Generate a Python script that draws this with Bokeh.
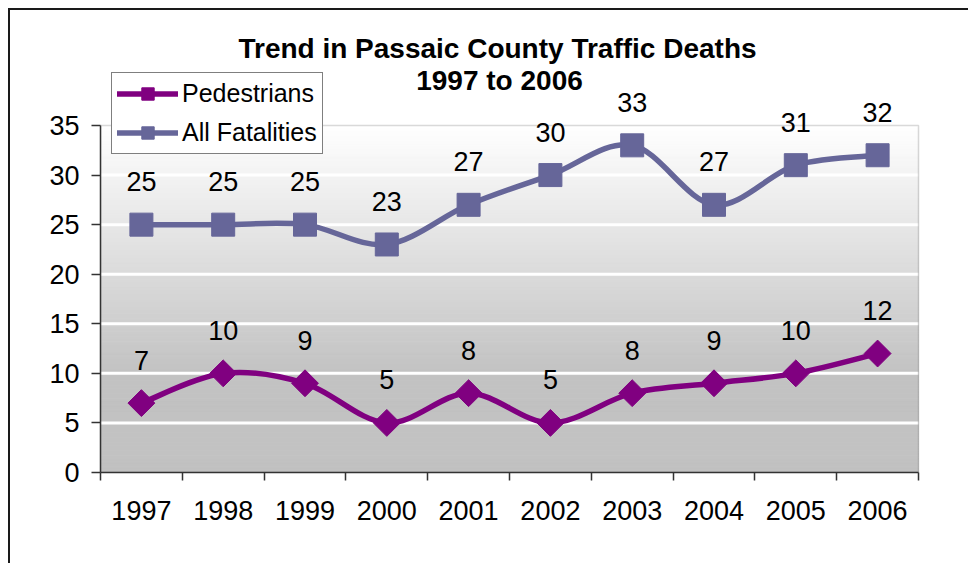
import numpy as np
from bokeh.plotting import figure
from bokeh.models import (Range1d, FixedTicker, ColumnDataSource, LabelSet, Label,
                          Legend, LegendItem, BoxAnnotation)
from bokeh.embed import file_html
from bokeh.resources import INLINE
from bokeh.core.properties import value

# ---------------- data ----------------
years = ["1997", "1998", "1999", "2000", "2001", "2002", "2003", "2004", "2005", "2006"]
pedestrians = [7, 10, 9, 5, 8, 5, 8, 9, 10, 12]
all_fatalities = [25, 25, 25, 23, 27, 30, 33, 27, 31, 32]
y_ticks = [0, 5, 10, 15, 20, 25, 30, 35]
title_lines = ["Trend in Passaic County Traffic Deaths", "1997 to 2006"]
series_names = ["Pedestrians", "All Fatalities"]

PED_COLOR = "#800080"
ALL_COLOR = "#666699"
FONT = "Liberation Sans"

n = len(years)
xs = np.arange(n) + 0.5
y_max = y_ticks[-1]

# layout (pixels): plot area 818 x 347, frame extended up/right so that
# legend, title and data labels are not clipped
PLOT_W, PLOT_H = 818, 347
FRAME_W, FRAME_H = 830, 462
x_top = n * FRAME_W / PLOT_W
y_top = y_max * FRAME_H / PLOT_H

p = figure(width=960, height=555, output_backend="svg", toolbar_location=None,
           x_range=Range1d(0, x_top), y_range=Range1d(0, y_top),
           min_border_left=90, min_border_right=960 - 90 - FRAME_W,
           min_border_top=0, min_border_bottom=555 - FRAME_H)
p.styles = {"margin-left": "8px", "margin-top": "8px",
            "border-left": "2px solid #1a1a1a", "border-top": "2px solid #1a1a1a"}
p.background_fill_color = "white"
p.border_fill_color = "white"
p.outline_line_color = None

# ---------------- gradient plot-area background ----------------
steps = 140
edges = np.linspace(0, y_max, steps + 1)
mids = (edges[:-1] + edges[1:]) / 2
t = np.clip((mids - 10) / (y_max - 10), 0, 1)
g = (194 + t * (255 - 194)).round().astype(int)
bg_colors = ["#%02x%02x%02x" % (v, v, v) for v in g]
p.quad(left=0, right=n, bottom=edges[:-1], top=edges[1:], fill_color=bg_colors,
       line_color=bg_colors, line_width=1, level="image")

# ---------------- grid ----------------
p.xgrid.visible = False
p.ygrid.visible = False
grid_y = y_ticks[1:-1]
p.segment(x0=[0] * len(grid_y), x1=[n] * len(grid_y), y0=grid_y, y1=grid_y,
          line_color="white", line_width=3, level="underlay")

# plot-area border (top and right)
p.add_layout(BoxAnnotation(left=0, right=n, bottom=0, top=y_max, fill_color=None,
                           line_color="#808080", line_width=1.5, level="underlay"))


# ---------------- smoothed lines (Catmull-Rom bezier) ----------------
def bezier_parts(x, y):
    P = np.column_stack([x, y]).astype(float)
    Pm = np.vstack([P[0], P, P[-1]])
    m = len(P)
    c0 = P[:-1] + (Pm[2:m + 1] - Pm[0:m - 1]) / 6.0
    c1 = P[1:] - (Pm[3:m + 2] - Pm[1:m]) / 6.0
    return dict(x0=P[:-1, 0], y0=P[:-1, 1], x1=P[1:, 0], y1=P[1:, 1],
                cx0=c0[:, 0], cy0=c0[:, 1], cx1=c1[:, 0], cy1=c1[:, 1])


bz_all = p.bezier(source=ColumnDataSource(bezier_parts(xs, all_fatalities)),
                  x0="x0", y0="y0", x1="x1", y1="y1", cx0="cx0", cy0="cy0",
                  cx1="cx1", cy1="cy1", line_color=ALL_COLOR, line_width=5.5,
                  line_cap="round")
bz_ped = p.bezier(source=ColumnDataSource(bezier_parts(xs, pedestrians)),
                  x0="x0", y0="y0", x1="x1", y1="y1", cx0="cx0", cy0="cy0",
                  cx1="cx1", cy1="cy1", line_color=PED_COLOR, line_width=5.5,
                  line_cap="round")

src = ColumnDataSource(dict(x=xs, ped=pedestrians, allf=all_fatalities,
                            ped_txt=[str(v) for v in pedestrians],
                            all_txt=[str(v) for v in all_fatalities]))

sc_all = p.scatter("x", "allf", source=src, marker="square", size=23,
                   fill_color=ALL_COLOR, line_color=ALL_COLOR)
sc_ped = p.scatter("x", "ped", source=src, marker="square", angle=np.pi / 4,
                   size=19, fill_color=PED_COLOR, line_color=PED_COLOR)

for col, txt in (("ped", "ped_txt"), ("allf", "all_txt")):
    p.add_layout(LabelSet(x="x", y=col, text=txt, source=src, y_offset=43,
                          text_align="center", text_baseline="middle",
                          text_font=value(FONT), text_font_size="27px",
                          text_color="black"))

# ---------------- axes ----------------
p.xaxis.ticker = FixedTicker(ticks=list(xs), minor_ticks=list(range(n + 1)))
p.xaxis.major_label_overrides = {float(xv): yr for xv, yr in zip(xs, years)}
p.xaxis.bounds = (0, n)
p.xaxis.major_tick_out = 0
p.xaxis.major_tick_in = 0
p.xaxis.minor_tick_out = 8
p.xaxis.minor_tick_in = 0
p.xaxis.minor_tick_line_color = "#333333"
p.xaxis.minor_tick_line_width = 1.5
p.xaxis.major_label_standoff = 20

p.yaxis.ticker = FixedTicker(ticks=y_ticks)
p.yaxis.bounds = (0, y_max)
p.yaxis.major_tick_out = 9
p.yaxis.major_tick_in = 0
p.yaxis.minor_tick_line_color = None
p.yaxis.major_label_standoff = 12

for ax in (p.xaxis[0], p.yaxis[0]):
    ax.axis_line_color = "#333333"
    ax.axis_line_width = 1.5
    ax.major_tick_line_color = "#333333"
    ax.major_tick_line_width = 1.5
    ax.major_label_text_font = FONT
    ax.major_label_text_font_size = "27px"
    ax.major_label_text_color = "black"

# ---------------- title ----------------
p.add_layout(Label(x=397, y=424, x_units="screen", y_units="screen", text=title_lines[0],
                   text_align="center", text_baseline="alphabetic", text_font=FONT,
                   text_font_size="28px", text_font_style="bold", text_color="black"))
p.add_layout(Label(x=399, y=392, x_units="screen", y_units="screen", text=title_lines[1],
                   text_align="center", text_baseline="alphabetic", text_font=FONT,
                   text_font_size="28px", text_font_style="bold", text_color="black"))

# ---------------- legend ----------------
legend = Legend(items=[LegendItem(label=series_names[0], renderers=[bz_ped, sc_ped]),
                       LegendItem(label=series_names[1], renderers=[bz_all, sc_all])],
                location=(11, 318), orientation="vertical", glyph_width=61,
                glyph_height=31, label_height=31, spacing=8, padding=5, margin=0,
                label_standoff=4, label_text_font=FONT, label_text_font_size="25px",
                label_text_color="black", border_line_color="black",
                border_line_width=1.2, background_fill_color="white",
                background_fill_alpha=1.0)
p.add_layout(legend, "center")

open("out.html", "w").write(file_html(p, INLINE))
